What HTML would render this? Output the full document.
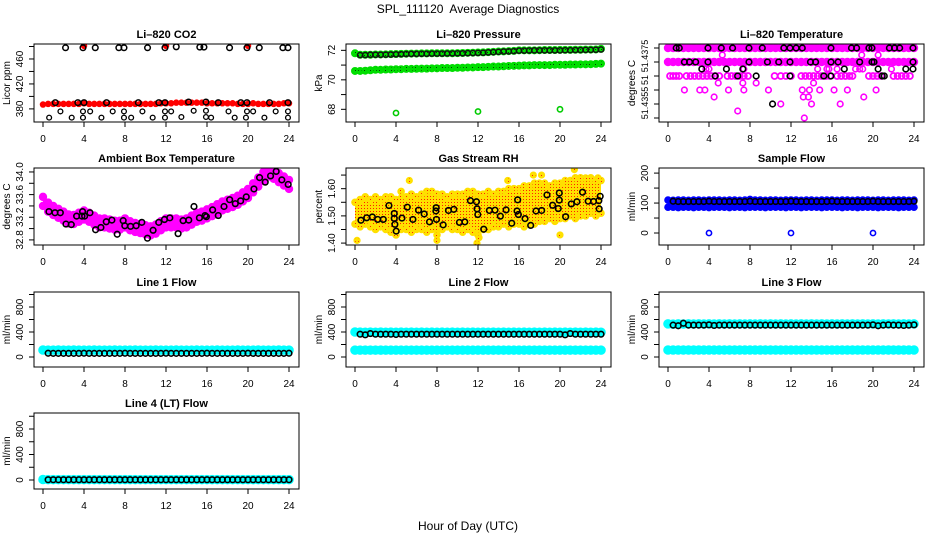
<!DOCTYPE html>
<html><head><meta charset="utf-8"><title>SPL_111120 Average Diagnostics</title>
<style>
html,body{margin:0;padding:0;background:#fff;}
svg{display:block;font-family:"Liberation Sans",sans-serif;}
</style></head>
<body>
<svg id="fig" width="936" height="540" viewBox="0 0 936 540" xmlns="http://www.w3.org/2000/svg">
<defs>
<pattern id="rhpat" width="3" height="3" patternUnits="userSpaceOnUse"><rect width="3" height="3" fill="#ffe000"/><rect x="1" y="1" width="1" height="1" fill="#ff2000"/></pattern>
<pattern id="grpat" width="3" height="3" patternUnits="userSpaceOnUse"><rect width="3" height="3" fill="#00e000"/><rect x="1" y="1" width="1" height="1" fill="#004000"/></pattern>
</defs>
<text x="468" y="13" text-anchor="middle" font-size="12">SPL_111120&#160; Average Diagnostics</text>
<text x="468" y="530" text-anchor="middle" font-size="12">Hour of Day (UTC)</text>
</svg>
<script>
// ---------- data ----------
const H = [0,0.5,1,1.5,2,2.5,3,3.5,4,4.5,5,5.5,6,6.5,7,7.5,8,8.5,9,9.5,10,10.5,11,11.5,12,12.5,13,13.5,14,14.5,15,15.5,16,16.5,17,17.5,18,18.5,19,19.5,20,20.5,21,21.5,22,22.5,23,23.5,24];
const HB = [0.5,1,1.5,2,2.5,3,3.5,4,4.5,5,5.5,6,6.5,7,7.5,8,8.5,9,9.5,10,10.5,11,11.5,12,12.5,13,13.5,14,14.5,15,15.5,16,16.5,17,17.5,18,18.5,19,19.5,20,20.5,21,21.5,22,22.5,23,23.5,24];
const xTicks = [0,4,8,12,16,20,24];

// CO2
const co2Red = [387,388,388,388,388,388,388,388,389,388,388,388,388,388,388,388,388,388,388,388,388,388,388,389,389,389,390,390,390,390,390,390,389,389,389,389,389,389,388,388,388,389,388,388,388,388,388,389,389];
const co2RedHighH = [4,12,20];
const co2RedHighV = [481,481,481];
const co2HighH = [2.2,3.9,5.1,7.4,7.9,10.2,11.9,13.0,15.3,15.7,18.2,19.9,21.1,23.4,23.9];
const co2HighV = [478,478,478,478,478,478,478,479.5,479,479,478,478,478,478,478];
const co2MidH = [1.2,3.4,4.0,6.2,9.3,11.3,11.9,14.2,15.9,17.1,19.3,19.9,22.1,23.9];
const co2MidV = [390,390,390,390,390,390,390,391,391,390,390,390,390,390];
const co2LowH = [1.7,3.9,4.6,6.8,7.9,9.7,11.9,12.5,14.7,15.9,18.1,19.9,20.5,22.7,23.9,0.6,2.8,3.9,5.7,7.9,8.6,10.7,11.9,13.5,15.9,16.4,18.7,19.8,21.6,23.9];
const co2LowV = [376,376,376,376,376,376,376,376,377,377,376,376,376,376,376,366,366,366,366,366,366,366,366,367,367,366,366,366,366,366];

// Pressure
const presTop = [71.8,71.7,71.7,71.7,71.72,71.72,71.73,71.74,71.75,71.76,71.77,71.78,71.78,71.79,71.79,71.8,71.8,71.8,71.8,71.8,71.81,71.82,71.83,71.84,71.85,71.86,71.88,71.9,71.92,71.93,71.95,71.96,72.0,72.0,72.0,72.0,72.01,72.02,72.02,72.02,72.03,72.03,72.03,72.04,72.04,72.05,72.05,72.06,72.1];
const presBlack = [71.68,71.68,71.7,71.7,71.7,71.71,71.72,71.73,71.74,71.75,71.76,71.76,71.77,71.77,71.78,71.78,71.78,71.79,71.79,71.8,71.8,71.81,71.82,71.83,71.84,71.86,71.88,71.9,71.92,71.93,71.95,71.98,71.98,71.99,72.0,72.0,72.0,72.0,72.0,72.0,72.01,72.01,72.02,72.02,72.03,72.03,72.04,72.06];
const presLow = [70.6,70.6,70.62,70.65,70.68,70.68,70.7,70.7,70.72,70.72,70.74,70.74,70.75,70.76,70.76,70.78,70.78,70.8,70.8,70.8,70.82,70.82,70.84,70.84,70.86,70.86,70.88,70.9,70.9,70.92,70.94,70.95,70.96,70.98,70.98,71.0,71.0,71.0,71.0,71.02,71.02,71.02,71.04,71.04,71.05,71.05,71.06,71.08,71.1];
const presOutH = [4,12,20];
const presOutV = [67.75,67.85,68.0];

// Li-820 temperature (discrete levels)
const litTopH = H;
const litTopLevel = 51.4375;
const litMidLevel = 51.437;
const litLowLevel = 51.4365;
const litLowH = [0.2,0.5,0.8,1.1,1.8,2.2,2.6,3.0,3.4,3.8,4.2,4.6,5.0,5.8,6.2,6.6,7.0,7.4,7.8,10.4,11.0,11.5,12.0,13.0,13.4,13.8,14.2,14.6,15.0,15.4,15.8,16.5,16.9,17.3,17.7,18.0,19.6,20.0,20.4,20.8,22.0,22.4,22.8,23.2,23.6];
const litMagH = [5.3,18.9,20.5,3.7,4.0,7.4,14.6,15.5,15.7,16.5,18.3,18.7,19.0,21.8,1.6,3.1,3.6,5.9,7.4,9.8,13.1,13.8,14.8,16.2,17.5,20.3,4.9,7.3,8.6,14.2,4.5,13.2,13.7,19.1,11.0,14.0,16.8,6.8,13.3];
const litMagV = [51.43725,51.43725,51.43725,51.43675,51.43675,51.43675,51.43675,51.43675,51.43675,51.43675,51.43675,51.43675,51.43675,51.43675,51.436,51.436,51.436,51.436,51.436,51.436,51.436,51.436,51.436,51.436,51.436,51.436,51.43625,51.43625,51.43625,51.43625,51.43575,51.43575,51.43575,51.43575,51.4355,51.4355,51.4355,51.43525,51.435];
const litBlkH = [0.8,1.1,3.9,5.2,6.3,7.9,9.2,11.3,11.9,12.5,13.1,15.9,17.9,18.4,19.6,19.9,21.6,22.1,22.6,23.9,1.6,2.1,2.7,3.9,7.9,9.7,10.8,11.9,13.9,14.4,15.9,16.6,18.7,19.9,20.1,23.9,3.3,5.7,7.3,17.2,20.5,23.2,23.9,4.6,6.8,8.6,11.9,15.2,15.9,20.9,21.1,10.2];
const litBlkV = [51.4375,51.4375,51.4375,51.4375,51.4375,51.4375,51.4375,51.4375,51.4375,51.4375,51.4375,51.4375,51.4375,51.4375,51.4375,51.4375,51.4375,51.4375,51.4375,51.4375,51.437,51.437,51.437,51.437,51.437,51.437,51.437,51.437,51.437,51.437,51.437,51.437,51.437,51.437,51.437,51.437,51.43675,51.43675,51.43675,51.43675,51.43675,51.43675,51.43675,51.4365,51.4365,51.4365,51.4365,51.4365,51.4365,51.4365,51.4365,51.4355];

// Ambient box temperature
const ambMag = [33.48,33.38,33.32,33.27,33.22,33.17,33.16,33.2,33.24,33.2,33.15,33.1,33.1,33.08,33.06,33.06,33.1,33.05,33.02,33.0,32.98,32.96,32.99,33.05,33.1,33.1,33.1,33.08,33.1,33.15,33.2,33.22,33.26,33.3,33.35,33.4,33.43,33.46,33.5,33.56,33.62,33.72,33.82,33.92,34.0,33.96,33.9,33.84,33.78];
const ambBlkH = [0.58,1.17,1.69,2.24,2.76,3.28,3.80,3.86,4.06,4.58,5.13,5.65,6.17,6.72,7.24,7.82,7.98,8.54,9.09,9.64,10.19,10.74,11.29,11.85,12.37,13.18,13.67,14.22,14.73,15.26,15.81,15.94,16.55,17.1,17.66,18.21,18.76,19.28,19.83,20.58,21.13,21.68,22.2,22.75,23.3,23.92];
const ambBlkV = [33.30,33.28,33.28,33.08,33.07,33.22,33.22,33.30,33.22,33.28,32.98,33.02,33.12,33.15,32.90,33.14,33.05,33.04,33.05,33.11,32.83,32.97,33.11,33.16,33.19,32.91,33.14,33.15,33.39,33.19,33.23,33.21,33.33,33.23,33.39,33.51,33.44,33.49,33.56,33.70,33.90,33.82,33.93,34.01,33.86,33.78];

// Gas stream RH
const rhLow = [1.47,1.46,1.47,1.46,1.45,1.46,1.45,1.44,1.43,1.45,1.45,1.44,1.45,1.45,1.44,1.45,1.43,1.45,1.46,1.45,1.45,1.44,1.45,1.44,1.43,1.45,1.45,1.46,1.46,1.47,1.46,1.47,1.47,1.46,1.47,1.47,1.48,1.48,1.49,1.48,1.49,1.49,1.50,1.49,1.50,1.50,1.51,1.50,1.51];
const rhHigh = [1.55,1.56,1.57,1.56,1.57,1.56,1.57,1.57,1.56,1.59,1.57,1.58,1.57,1.58,1.59,1.59,1.58,1.58,1.57,1.58,1.58,1.58,1.59,1.59,1.58,1.58,1.59,1.58,1.59,1.59,1.60,1.60,1.60,1.61,1.61,1.62,1.62,1.62,1.61,1.62,1.62,1.63,1.63,1.64,1.64,1.63,1.64,1.63,1.63];
const rhOutH = [0.2,5.3,14.9,11.9,8.0,17.4,18.2,21.4,23.7,22.5,20.0,12.1];
const rhOutV = [1.41,1.63,1.63,1.40,1.41,1.65,1.65,1.67,1.64,1.64,1.43,1.42];
const rhBlkH = [0.58,1.14,1.69,2.21,2.76,3.31,3.83,3.83,3.89,4.02,4.58,5.10,5.65,6.2,6.75,7.27,7.89,7.92,7.95,8.6,9.12,9.64,10.19,10.71,11.26,11.85,11.91,11.98,12.56,13.11,13.66,14.18,14.74,15.29,15.81,15.87,15.94,16.59,17.14,17.66,18.21,18.73,19.28,19.83,19.93,19.93,20.55,21.1,21.65,22.2,22.75,23.27,23.79,23.92,23.82];
const rhBlkV = [1.484,1.493,1.496,1.487,1.487,1.538,1.509,1.491,1.469,1.444,1.492,1.532,1.487,1.521,1.507,1.478,1.518,1.530,1.487,1.467,1.520,1.524,1.476,1.478,1.556,1.552,1.526,1.505,1.451,1.520,1.521,1.499,1.522,1.473,1.518,1.559,1.505,1.490,1.465,1.518,1.520,1.577,1.539,1.527,1.558,1.584,1.497,1.544,1.552,1.587,1.554,1.553,1.556,1.572,1.526];

// Sample flow
const sfLow = [86,86,85,86,86,85,86,86,85,86,86,86,85,86,86,85,86,86,86,85,86,86,86,85,86,86,85,86,86,86,85,86,86,86,85,86,86,85,86,86,86,85,86,86,86,85,86,86,86];
const sfHigh = [110,109,110,110,109,110,110,109,110,110,110,109,110,110,109,110,112,110,110,109,110,110,109,110,110,110,109,110,110,109,110,110,110,109,110,110,109,110,110,110,109,110,110,109,110,110,110,109,110];
const sfBlk = [106,105,105,105,105,105,105,106,105,105,105,105,105,105,105,106,105,105,105,105,105,105,105,106,105,105,105,105,105,105,105,106,105,105,105,105,105,105,105,106,105,105,105,105,105,105,105,106];
const sfOutH = [4,12,20];
const sfOutV = [0,0,0];

// Line flows
const l1Cyan = [112,110,110,111,110,110,111,110,110,110,111,110,110,110,111,110,110,110,111,110,110,110,111,110,110,110,111,110,110,110,111,110,110,110,111,110,110,110,111,110,110,110,111,110,110,110,111,110,110];
const l1Blk = [60,58,58,58,58,58,58,60,58,58,58,58,58,58,58,60,58,58,58,58,58,58,58,60,58,58,58,58,58,58,58,60,58,58,58,58,58,58,58,60,58,58,58,58,58,58,58,60];
const l2CyanTop = [400,398,396,398,396,398,396,398,396,398,396,398,396,398,396,398,396,398,396,398,396,398,396,398,396,398,396,398,396,398,396,398,396,398,396,398,396,398,396,398,396,398,396,398,396,398,396,398,396];
const l2CyanBot = [110,110,110,110,110,110,110,110,110,110,110,110,110,110,110,110,110,110,110,110,110,110,110,110,110,110,110,110,110,110,110,110,110,110,110,110,110,110,110,110,110,110,110,110,110,110,110,110,110];
const l2Blk = [365,355,375,365,365,365,365,360,365,365,365,365,365,365,365,365,365,365,365,365,365,365,365,365,365,365,365,365,365,365,365,365,365,365,365,365,365,365,365,365,355,375,365,365,365,365,365,365];
const l3CyanTop = [530,525,530,528,530,528,530,528,530,528,530,528,530,528,530,528,530,528,530,528,530,528,530,528,530,528,530,528,530,528,530,528,530,528,530,528,530,528,530,528,530,528,530,528,530,528,530,528,530];
const l3CyanBot = [112,112,112,112,112,112,112,112,112,112,112,112,112,112,112,112,112,112,112,112,112,112,112,112,112,112,112,112,112,112,112,112,112,112,112,112,112,112,112,112,112,112,112,112,112,112,112,112,112];
const l3Blk = [510,500,540,510,510,510,510,515,505,510,510,510,510,510,510,510,510,510,510,510,510,510,510,510,510,510,510,510,510,510,510,510,510,510,510,510,510,510,510,515,500,510,515,510,510,505,510,515];
const l4Cyan = [8,6,6,6,6,6,6,6,6,6,6,6,6,6,6,6,6,6,6,6,6,6,6,6,6,6,6,6,6,6,6,6,6,6,6,6,6,6,6,6,6,6,6,6,6,6,6,6,6];
const l4Blk = [5,5,5,5,5,5,5,5,5,5,5,5,5,5,5,5,5,5,5,5,5,5,5,5,5,5,5,5,5,5,5,5,5,5,5,5,5,5,5,5,5,5,5,5,5,5,5,5];

// ---------- layout ----------
const NS = 'http://www.w3.org/2000/svg';
const svg = document.getElementById('fig');
const COLS = [34, 346, 659], PW = 265;
const ROWS = [[44,122],[168,245],[292,367],[413,489]];

const panels = [
 {id:'co2', title:'Li\u2013820 CO2', col:0,row:0, dmin:359, dmax:484, ticks:[380,400,420,440,460,480], labels:[[380,'380'],[420,'420'],[460,'460']], yt:'Licor ppm', fs:10},
 {id:'pres', title:'Li\u2013820 Pressure', col:1,row:0, dmin:67.14, dmax:72.43, ticks:[68,69,70,71,72], labels:[[68,'68'],[70,'70'],[72,'72']], yt:'kPa', fs:10},
 {id:'lit', title:'Li\u2013820 Temperature', col:2,row:0, dmin:51.434857, dmax:51.437643, ticks:[51.4375,51.437,51.4365,51.436,51.4355,51.435], labels:[[51.437214,'51.4375'],[51.436357,'51'],[51.435536,'51.4355']], yt:'degrees C', fs:9},
 {id:'amb', title:'Ambient Box Temperature', col:0,row:1, dmin:32.71, dmax:34.07, ticks:[32.8,33.0,33.2,33.4,33.6,33.8,34.0], labels:[[32.8,'32.8'],[33.2,'33.2'],[33.6,'33.6'],[34.0,'34.0']], yt:'degrees C', fs:10},
 {id:'rh', title:'Gas Stream RH', col:1,row:1, dmin:1.393, dmax:1.676, ticks:[1.40,1.45,1.50,1.55,1.60,1.65], labels:[[1.40,'1.40'],[1.50,'1.50'],[1.60,'1.60']], yt:'percent', fs:10},
 {id:'sf', title:'Sample Flow', col:2,row:1, dmin:-40, dmax:217, ticks:[0,50,100,150,200], labels:[[0,'0'],[100,'100'],[200,'200']], yt:'ml/min', fs:10},
 {id:'l1', title:'Line 1 Flow', col:0,row:2, dmin:-160, dmax:1040, ticks:[0,200,400,600,800,1000], labels:[[0,'0'],[400,'400'],[800,'800']], yt:'ml/min', fs:10},
 {id:'l2', title:'Line 2 Flow', col:1,row:2, dmin:-160, dmax:1040, ticks:[0,200,400,600,800,1000], labels:[[0,'0'],[400,'400'],[800,'800']], yt:'ml/min', fs:10},
 {id:'l3', title:'Line 3 Flow', col:2,row:2, dmin:-160, dmax:1040, ticks:[0,200,400,600,800,1000], labels:[[0,'0'],[400,'400'],[800,'800']], yt:'ml/min', fs:10},
 {id:'l4', title:'Line 4 (LT) Flow', col:0,row:3, dmin:-141, dmax:1051, ticks:[0,200,400,600,800,1000], labels:[[0,'0'],[400,'400'],[800,'800']], yt:'ml/min', fs:10}
];

function el(tag, attrs, parent){
  const e = document.createElementNS(NS, tag);
  for (const k in attrs) e.setAttribute(k, attrs[k]);
  (parent||svg).appendChild(e);
  return e;
}
const P = {};
panels.forEach(p => {
  const left = COLS[p.col], top = ROWS[p.row][0], bot = ROWS[p.row][1];
  p.x = h => left + 9 + h * 246 / 24;
  p.y = v => bot - (v - p.dmin) / (p.dmax - p.dmin) * (bot - top);
  const g = el('g', {});
  
  
  p.g = g;
  const t = el('text', {x: left + PW/2, y: top - 6, 'text-anchor':'middle', 'font-size':'11', 'font-weight':'bold'}, g);
  t.textContent = p.title;
  
  
  const cp = el('clipPath', {id:'clip-' + p.id}, g);
  el('rect', {x:left, y:top, width:PW, height:bot-top}, cp);
  p.m = el('g', {'clip-path':'url(#clip-' + p.id + ')'}, g);
  
  
  const fr = el('rect', {x:left, y:top, width:PW, height:bot-top, fill:'none', stroke:'#000', 'stroke-width':'1'}, g);
  
  
  const xa = el('g', {}, g);
  
  
  el('line', {x1:p.x(0), x2:p.x(24), y1:bot, y2:bot, stroke:'#000'}, xa);
  xTicks.forEach(h => {
    el('line', {x1:p.x(h), x2:p.x(h), y1:bot, y2:bot+5, stroke:'#000'}, xa);
    const tl = el('text', {x:p.x(h), y:bot+20, 'text-anchor':'middle', 'font-size':'10'}, xa);
    tl.textContent = String(h);
  });
  const ya = el('g', {}, g);
  
  
  p.ticks.forEach(v => el('line', {x1:left-5, x2:left, y1:p.y(v), y2:p.y(v), stroke:'#000'}, ya));
  p.labels.forEach(([v, s]) => {
    const yy = p.y(v);
    const tl = el('text', {x:left-11, y:yy, 'text-anchor':'middle', 'font-size':p.fs, transform:'rotate(-90 ' + (left-11) + ' ' + yy + ')'}, ya);
    tl.textContent = s;
  });
  const ytx = left - 24, yty = (top + bot) / 2;
  const yt = el('text', {x:ytx, y:yty, 'text-anchor':'middle', 'font-size':'10', transform:'rotate(-90 ' + ytx + ' ' + yty + ')'}, g);
  yt.textContent = p.yt;
  
  
  P[p.id] = p;
});

function pts(p, hs, vs, color, r, sw, fill, name){
  const g = el('g', {}, p.m);
  
  
  for (let i = 0; i < hs.length; i++){
    if (vs[i] === undefined) continue;
    el('circle', {cx:p.x(hs[i]), cy:p.y(vs[i]), r:r, fill:fill||'none', stroke:color, 'stroke-width':sw}, g);
  }
  return g;
}
function band(p, hs, lo, hi, fill, name){
  let d = '';
  hs.forEach((h,i) => { d += (i ? 'L' : 'M') + p.x(h) + ' ' + p.y(hi[i]); });
  for (let i = hs.length - 1; i >= 0; i--) d += 'L' + p.x(hs[i]) + ' ' + p.y(lo[i]);
  const b = el('path', {d: d + 'Z', fill: fill, stroke: 'none'}, p.m);
  
  
}
function constArr(n, v){ const a = []; for (let i = 0; i < n; i++) a.push(v); return a; }

// CO2
pts(P.co2, H, co2Red, '#ff0000', 2.5, 1.5, '#ff0000', 'co2-red-series');
pts(P.co2, co2RedHighH, co2RedHighV, '#ff0000', 2.5, 1.5, '#ff0000', 'co2-red-high');
pts(P.co2, co2HighH, co2HighV, '#000', 2.8, 1.5, 'none', 'co2-black-high');
pts(P.co2, co2MidH, co2MidV, '#000', 2.8, 1.5, 'none', 'co2-black-mid');
pts(P.co2, co2LowH, co2LowV, '#000', 2.4, 1.3, 'none', 'co2-black-low');

// Pressure
pts(P.pres, H, presTop, '#00dd00', 3, 2, 'url(#grpat)', 'pressure-green-top');
pts(P.pres, H, presLow, '#00dd00', 3, 2, 'url(#grpat)', 'pressure-green-low');
pts(P.pres, HB, presBlack, '#111', 2.6, 1.5, 'none', 'pressure-black');
pts(P.pres, presOutH, presOutV, '#00cc00', 2.6, 1.6, 'none', 'pressure-outliers');

// Li-820 temperature
pts(P.lit, litTopH, constArr(litTopH.length, litTopLevel), '#ff00ff', 3.2, 2, '#ff00ff', 'lit-band-top');
pts(P.lit, H, constArr(H.length, litMidLevel), '#ff00ff', 3.2, 2, '#ff00ff', 'lit-band-mid');
pts(P.lit, litLowH, constArr(litLowH.length, litLowLevel), '#ff00ff', 3, 1.8, 'none', 'lit-band-low');
pts(P.lit, litMagH, litMagV, '#ff00ff', 2.8, 1.6, 'none', 'lit-magenta-points');
pts(P.lit, litBlkH, litBlkV, '#000', 2.8, 1.6, 'none', 'lit-black-points');

// Ambient
band(P.amb, H, ambMag.map(v => v - 0.08), ambMag.map(v => v + 0.08), '#ff00ff', 'ambient-band');
pts(P.amb, H, ambMag.map(v => v + 0.08), '#ff00ff', 3.2, 2, '#ff00ff', 'ambient-band-top-edge');
pts(P.amb, H, ambMag.map(v => v - 0.08), '#ff00ff', 3.2, 2, '#ff00ff', 'ambient-band-low-edge');
pts(P.amb, ambBlkH, ambBlkV, '#000', 2.8, 1.6, 'none', 'ambient-black-points');

// RH
band(P.rh, H, rhLow, rhHigh, 'url(#rhpat)', 'rh-cloud');
pts(P.rh, H, rhHigh, '#ffe000', 3, 1.6, 'url(#rhpat)', 'rh-cloud-top-edge');
pts(P.rh, H, rhLow, '#ffe000', 3, 1.6, 'url(#rhpat)', 'rh-cloud-low-edge');
pts(P.rh, rhOutH, rhOutV, '#ffe000', 2.8, 1.6, 'url(#rhpat)', 'rh-outliers');
pts(P.rh, rhBlkH, rhBlkV, '#000', 2.8, 1.6, 'none', 'rh-black-points');

// Sample flow
band(P.sf, H, sfLow, sfHigh, '#0000ff', 'sample-flow-band');
pts(P.sf, H, sfHigh, '#0000ff', 3, 1.6, '#0000ff', 'sample-flow-top-edge');
pts(P.sf, H, sfLow, '#0000ff', 3, 1.6, '#0000ff', 'sample-flow-low-edge');
pts(P.sf, HB, sfBlk, '#000', 2.8, 1.6, 'none', 'sample-flow-black');
pts(P.sf, sfOutH, sfOutV, '#0000ff', 2.6, 1.6, 'none', 'sample-flow-outliers');

// Line flows
pts(P.l1, H, l1Cyan, '#00ffff', 3.8, 2, '#00ffff', 'line1-cyan');
pts(P.l1, HB, l1Blk, '#000', 2.8, 1.6, 'none', 'line1-black');
pts(P.l2, H, l2CyanTop, '#00ffff', 3.8, 2, '#00ffff', 'line2-cyan-top');
pts(P.l2, H, l2CyanBot, '#00ffff', 3.8, 2, '#00ffff', 'line2-cyan-bottom');
pts(P.l2, HB, l2Blk, '#000', 2.8, 1.6, 'none', 'line2-black');
pts(P.l3, H, l3CyanTop, '#00ffff', 3.8, 2, '#00ffff', 'line3-cyan-top');
pts(P.l3, H, l3CyanBot, '#00ffff', 3.8, 2, '#00ffff', 'line3-cyan-bottom');
pts(P.l3, HB, l3Blk, '#000', 2.8, 1.6, 'none', 'line3-black');
pts(P.l4, H, l4Cyan, '#00ffff', 3.8, 2, '#00ffff', 'line4-cyan');
pts(P.l4, HB, l4Blk, '#000', 2.8, 1.6, 'none', 'line4-black');
</script>
</body></html>
